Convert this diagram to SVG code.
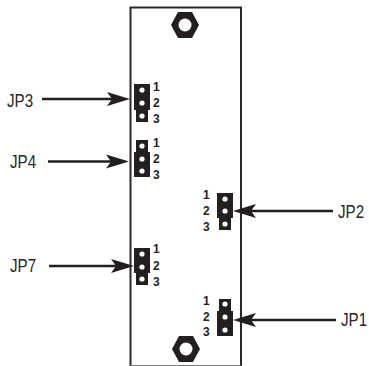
<svg xmlns="http://www.w3.org/2000/svg" width="369" height="366" viewBox="0 0 369 366">
<style>
.lbl{font-family:"Liberation Sans",Arial,sans-serif;font-size:18.500px;fill:#2a2627}
.n{font-family:"Liberation Sans",Arial,sans-serif;font-size:12px;font-weight:bold;fill:#231f20}
.b{fill:#231f20}
.p{fill:#fff}
.c{stroke:#231f20;stroke-width:2.300;fill:none}
</style>
<defs>
<g id="pin3"><circle class="p" cx="0" cy="0" r="2.600"/></g>
<polygon id="nutshape" points="-14,0 -7,-13 7,-13 14,0 7,13 -7,13"/>
</defs>
<rect width="369" height="366" fill="#fff"/>
<g id="board"><path d="M130.500 366V7.500H241V366" fill="none" stroke="#2b2829" stroke-width="2"/><path d="M130 365.500H241" stroke="#777" stroke-width="1"/></g>
<g id="nut-top"><use href="#nutshape" x="185" y="25" class="b"/><circle class="p" cx="185" cy="25" r="6.500"/></g>
<g id="nut-bottom"><use href="#nutshape" x="186" y="349" class="b"/><circle class="p" cx="186" cy="349" r="6.500"/></g>
<g id="JP3">
<rect class="b" x="134" y="84" width="16" height="26"/><rect class="b" x="136" y="110" width="12" height="12"/>
<use href="#pin3" x="142" y="90"/><use href="#pin3" x="142" y="103"/><use href="#pin3" x="142" y="116"/>
<text class="n" x="153" y="91">1</text><text class="n" x="153" y="107">2</text><text class="n" x="153" y="123">3</text>
<text class="lbl" transform="translate(7 107) scale(.82 1)">JP3</text>
</g>
<g id="JP4">
<rect class="b" x="136" y="140" width="12" height="12"/><rect class="b" x="134" y="152" width="16" height="25"/>
<use href="#pin3" x="142" y="146"/><use href="#pin3" x="142" y="159"/><use href="#pin3" x="142" y="171"/>
<text class="n" x="153" y="147">1</text><text class="n" x="153" y="163">2</text><text class="n" x="153" y="179">3</text>
<text class="lbl" transform="translate(10 168) scale(.82 1)">JP4</text>
</g>
<g id="JP7">
<rect class="b" x="134" y="248" width="16" height="25"/><rect class="b" x="136" y="273" width="12" height="12"/>
<use href="#pin3" x="142" y="254"/><use href="#pin3" x="142" y="267"/><use href="#pin3" x="142" y="279"/>
<text class="n" x="153" y="253">1</text><text class="n" x="153" y="270">2</text><text class="n" x="153" y="286">3</text>
<text class="lbl" transform="translate(10 272) scale(.82 1)">JP7</text>
</g>
<g id="JP2">
<rect class="b" x="217" y="193" width="16" height="25"/><rect class="b" x="219" y="218" width="12" height="12"/>
<use href="#pin3" x="225" y="199"/><use href="#pin3" x="225" y="211"/><use href="#pin3" x="225" y="224"/>
<text class="n" x="203" y="199">1</text><text class="n" x="203" y="215">2</text><text class="n" x="203" y="231">3</text>
<text class="lbl" transform="translate(338 218) scale(.82 1)">JP2</text>
</g>
<g id="JP1">
<rect class="b" x="219" y="299" width="12" height="12"/><rect class="b" x="217" y="311" width="16" height="25"/>
<use href="#pin3" x="225" y="304"/><use href="#pin3" x="225" y="317"/><use href="#pin3" x="225" y="330"/>
<text class="n" x="203" y="305">1</text><text class="n" x="203" y="321">2</text><text class="n" x="203" y="336">3</text>
<text class="lbl" transform="translate(341 326) scale(.82 1)">JP1</text>
</g>
<g id="connectors">
<path class="c" d="M42 99H112"/><polygon class="b" points="130,99 107,92 112,99 107,106"/>
<path class="c" d="M48 161.500H115"/><polygon class="b" points="129,161.500 106,154.500 111,161.500 106,168.500"/>
<path class="c" d="M49 266H118"/><polygon class="b" points="134,266 111,259 116,266 111,273"/>
<path class="c" d="M333 211H250"/><polygon class="b" points="233,211 256,204 251,211 256,218"/>
<path class="c" d="M336 320H250"/><polygon class="b" points="233,320 256,313 251,320 256,327"/>
</g>
</svg>
